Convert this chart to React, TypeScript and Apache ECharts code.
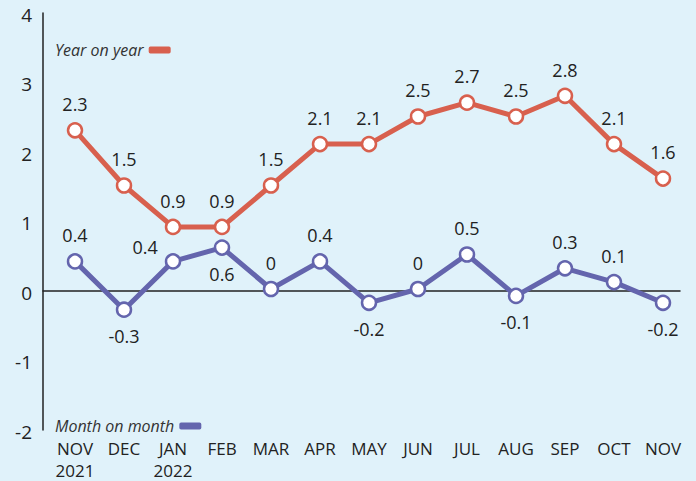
import React, { useEffect, useRef } from "react";
import * as echarts from "echarts";

const categories = ["NOV\n2021", "DEC", "JAN\n2022", "FEB", "MAR", "APR", "MAY", "JUN", "JUL", "AUG", "SEP", "OCT", "NOV"];
const yearOnYear = [2.3, 1.5, 0.9, 0.9, 1.5, 2.1, 2.1, 2.5, 2.7, 2.5, 2.8, 2.1, 1.6];
const monthOnMonth = [0.4, -0.3, 0.4, 0.6, 0, 0.4, -0.2, 0, 0.5, -0.1, 0.3, 0.1, -0.2];
const momLabelPos = ["top", "bottom", "left", "bottom", "top", "top", "bottom", "top", "top", "bottom", "top", "top", "bottom"];

const FONT = "Open Sans";
const RED = "#d8604e";
const PURPLE = "#6465ad";

export default function App() {
  const ref = useRef<HTMLDivElement>(null);
  useEffect(() => {
    const chart = echarts.init(ref.current!, null, { renderer: "svg" });
    const labelStyle = { fontFamily: FONT, fontSize: 18, color: "#222" };
    const legendBase = {
      align: "right",
      icon: "roundRect",
      itemWidth: 22,
      itemHeight: 7,
      itemGap: 8,
      textStyle: { fontFamily: FONT, fontSize: 16, fontStyle: "italic", color: "#333" },
    };
    chart.setOption({
      animation: false,
      backgroundColor: "#e0f2fa",
      textStyle: { fontFamily: FONT },
      grid: [
        { left: 75, right: 33, top: 13, bottom: 51 },
        { left: 43, right: 16, top: 13, bottom: 51 },
      ],
      legend: [
        {
          ...legendBase,
          data: [{ name: "Year on year", itemStyle: { color: RED, borderWidth: 0 } }],
          left: 50,
          top: 37,
        },
        {
          ...legendBase,
          data: [{ name: "Month on month", itemStyle: { color: PURPLE, borderWidth: 0 } }],
          left: 50,
          top: 413,
        },
      ],
      xAxis: [
        {
          type: "category",
          gridIndex: 0,
          data: categories,
          boundaryGap: false,
          position: "bottom",
          axisLine: { show: false, onZero: false },
          axisTick: { show: false },
          axisLabel: { ...labelStyle, fontSize: 17, lineHeight: 22, margin: 10, interval: 0 },
        },
        {
          type: "value",
          gridIndex: 1,
          min: 0,
          max: 1,
          axisLine: { show: true, onZero: true, lineStyle: { color: "#222", width: 1.5 } },
          axisTick: { show: false },
          axisLabel: { show: false },
          splitLine: { show: false },
        },
      ],
      yAxis: [
        {
          type: "value",
          gridIndex: 0,
          min: -2,
          max: 4,
          interval: 1,
          show: false,
          splitLine: { show: false },
        },
        {
          type: "value",
          gridIndex: 1,
          min: -2,
          max: 4,
          interval: 1,
          axisLine: { show: true, lineStyle: { color: "#222", width: 1.5 } },
          axisTick: { show: false },
          splitLine: { show: false },
          axisLabel: { ...labelStyle, fontSize: 19, margin: 11, verticalAlign: "top", padding: [-8, 0, 0, 0] },
        },
      ],
      series: [
        {
          name: "Year on year",
          type: "line",
          xAxisIndex: 0,
          yAxisIndex: 0,
          data: yearOnYear,
          color: RED,
          lineStyle: { width: 5, color: RED },
          symbol: "circle",
          symbolSize: 14,
          itemStyle: { color: "#fff", borderColor: RED, borderWidth: 2.5 },
          label: { show: true, position: "top", distance: 9, ...labelStyle },
          z: 3,
        },
        {
          name: "Month on month",
          type: "line",
          xAxisIndex: 0,
          yAxisIndex: 0,
          data: monthOnMonth.map((v, i) => ({
            value: v,
            label: momLabelPos[i] === "left"
              ? { position: "left", offset: [2, -14] }
              : { position: momLabelPos[i] },
          })),
          color: PURPLE,
          lineStyle: { width: 5, color: PURPLE },
          symbol: "circle",
          symbolSize: 14,
          itemStyle: { color: "#fff", borderColor: PURPLE, borderWidth: 2.5 },
          label: { show: true, distance: 9, ...labelStyle },
          z: 3,
        },
      ],
    });
    return () => chart.dispose();
  }, []);
  return <div ref={ref} style={{ width: 696, height: 481, position: "absolute", left: 0, top: 0 }} />;
}
